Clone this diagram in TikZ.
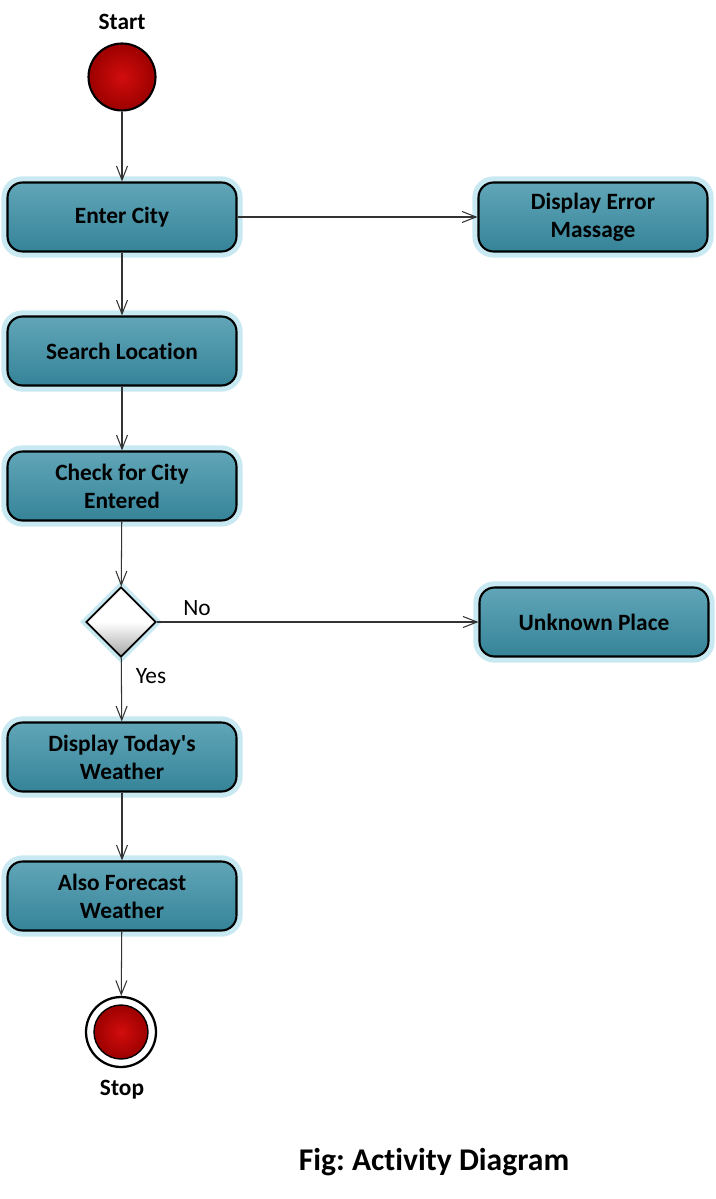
\documentclass[tikz,border=0pt]{standalone}
\usepackage{fontspec}
\setmainfont{Carlito}[Ligatures=NoCommon]
\usetikzlibrary{positioning,shapes.geometric,arrows.meta}
\frenchspacing

\definecolor{boxteal}{RGB}{58,143,166}
\definecolor{boxglow}{RGB}{200,232,242}
\definecolor{dotred}{RGB}{208,0,0}

\begin{document}
\begin{tikzpicture}[x=0.02cm,y=-0.02cm,
  every node/.style={font=\fontsize{13.3}{16}\selectfont\bfseries,align=center},
  activity/.style={rectangle,rounded corners=0.3cm,draw=black,line width=1.2pt,
    minimum width=4.58cm,minimum height=1.38cm,inner sep=2pt,
    top color=boxteal!80!white,middle color=boxteal,bottom color=boxteal!92!black,
    preaction={draw=boxglow,line width=7pt}},
  decision/.style={diamond,aspect=1,draw=black,line width=1pt,inner sep=0pt,
    minimum width=1.4cm,minimum height=1.4cm,
    top color=white,bottom color=black!35,middle color=white,
    preaction={draw=boxglow,line width=5pt}},
  startdot/.style={circle,draw=black,line width=1.2pt,minimum size=1.34cm,inner sep=0pt,
    inner color=dotred!95!white,outer color=dotred!75!black},
  flow/.style={draw=black!80,line width=0.6pt,
    -{Straight Barb[length=0.28cm,width=0.22cm]}},
  guard/.style={font=\fontsize{13.3}{16}\selectfont}
  ]
\useasboundingbox (0,0) rectangle (716,1199);

%% Start and stop
\node (start lbl) at (122,22) {Start};
\node[startdot] (start) at (122,77) {};

\node[circle,draw=black,line width=1.3pt,fill=white,minimum size=1.4cm,inner sep=0pt]
  (stop) at (121,1032) {};
\node[startdot,line width=0.8pt,minimum size=1.08cm] (stop dot) at (121,1032) {};
\node (stop lbl) at (122,1090) {Stop};

%% Activities
\node[activity] (enter)    at (122,217) {Enter City};
\node[activity] (error)    at (593,217) {Display Error\\Massage};
\node[activity] (search)   at (122,351) {Search Location};
\node[activity] (check)    at (122,486) {Check for City\\Entered};
\node[decision] (valid)    at (121,622) {};
\node[activity] (unknown)  at (594,622) {Unknown Place};
\node[activity] (today)    at (122,757) {Display Today\textquotesingle s\\Weather};
\node[activity] (forecast) at (122,896) {Also Forecast\\Weather};

%% Flows
\draw[flow] (start) to (enter);
\draw[flow] (enter) to (error);
\draw[flow] (enter) to (search);
\draw[flow] (search) to (check);
\draw[flow] (check) to (valid);
\draw[flow] (valid) to (unknown);
\draw[flow] (valid) to (today);
\draw[flow] (today) to (forecast);
\draw[flow] (forecast) to (stop);

\node[guard] (no lbl)  at (197,608) {No};
\node[guard] (yes lbl) at (151,676) {Yes};

\node[font=\fontsize{18}{22}\selectfont\bfseries] (caption) at (434,1162)
  {Fig: Activity Diagram};
\end{tikzpicture}
\end{document}
